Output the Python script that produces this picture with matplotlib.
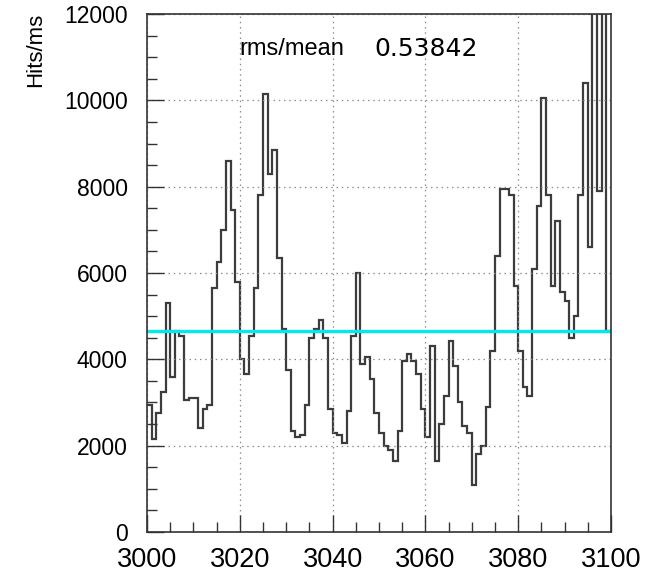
import matplotlib
matplotlib.use("Agg")
import matplotlib.pyplot as plt
from matplotlib.ticker import MultipleLocator
import numpy as np

plt.rcParams['font.family'] = ['Liberation Sans', 'DejaVu Sans']

x_start = 3000
x_end = 3100
hits = [2950, 2150, 2750, 3250, 5300, 3600, 4650, 4550, 3050, 3100,
        3100, 2400, 2850, 2950, 5650, 6250, 7000, 8600, 7450, 5800,
        4000, 3650, 4550, 5650, 7800, 10150, 8300, 8850, 6350, 4700,
        3750, 2350, 2200, 2250, 2950, 4500, 4700, 4900, 4500, 2850,
        2300, 2250, 2050, 2800, 4550, 6000, 3900, 4050, 3550, 2750,
        2300, 2000, 1900, 1650, 2350, 3950, 4120, 3950, 3650, 2850,
        2200, 4300, 1650, 2500, 3150, 4430, 3850, 3000, 2450, 2300,
        1100, 1800, 2000, 2900, 4200, 6400, 7950, 7950, 7800, 5700,
        4200, 3350, 3150, 6100, 7550, 10050, 7800, 5700, 7200, 5550,
        5350, 4500, 5000, 7800, 10400, 6600, 13000, 7900, 13000, 4650]
mean_level = 4650
stat_name = "rms/mean"
stat_value = "0.53842"
y_label = "Hits/ms"
x_ticks = [3000, 3020, 3040, 3060, 3080, 3100]
y_ticks = [0, 2000, 4000, 6000, 8000, 10000, 12000]

edges = np.arange(x_start, x_end + 1)

fig = plt.figure(figsize=(6.52, 5.79), dpi=100)
ax = fig.add_axes([0.2255, 0.0812, 0.937 - 0.2255, 0.9758 - 0.0812])

ax.stairs(hits, edges, baseline=None, color='#3c3c3c', linewidth=1.6)
ax.plot([x_start, x_end], [mean_level, mean_level], color='#00e8f0', linewidth=2.4)

ax.set_xlim(x_start, x_end)
ax.set_ylim(0, 12000)
ax.set_xticks(x_ticks)
ax.set_yticks(y_ticks)
ax.xaxis.set_minor_locator(MultipleLocator(5))
ax.yaxis.set_minor_locator(MultipleLocator(500))
ax.tick_params(which='both', direction='in', top=False, right=False,
               color='#333333')
ax.tick_params(axis='y', labelsize=16.5, pad=14)
ax.tick_params(axis='x', labelsize=19.5, pad=11)
ax.tick_params(which='major', length=12, width=1)
ax.tick_params(which='minor', length=7, width=1)
ax.grid(True, which='major', linestyle=(0, (1.2, 3)), color='#8c8c8c', linewidth=0.9)
for s in ax.spines.values():
    s.set_color('#333333')
    s.set_linewidth(1.2)

ax.text(3020, 11200, stat_name, fontsize=17, ha='left', va='center')
ax.text(3049, 11200, stat_value, fontsize=18, ha='left', va='center',
        family=['DejaVu Sans'])
fig.text(36 / 652, 1 - 13 / 579, y_label, rotation=90, fontsize=16,
         ha='center', va='top')

fig.savefig("out.png", dpi=100)
